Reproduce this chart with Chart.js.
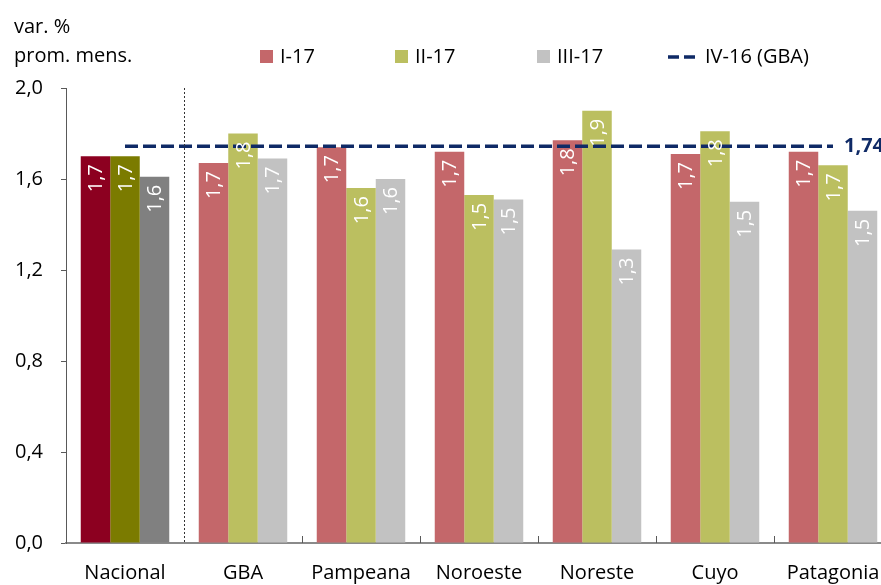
<!DOCTYPE html>
<html lang="es">
<head>
<meta charset="utf-8">
<title>Variación promedio mensual por región</title>
<script src="https://cdn.jsdelivr.net/npm/chart.js@4.4.1/dist/chart.umd.min.js"></script>
<style>
  html, body { margin: 0; padding: 0; background: #fff; overflow: hidden; }
  #grafico { display: block; }
</style>
</head>
<body>
<canvas id="grafico" width="900" height="585"></canvas>
<script>
const regiones = ["Nacional", "GBA", "Pampeana", "Noroeste", "Noreste", "Cuyo", "Patagonia"];
const trimestreI = [1.70, 1.67, 1.74, 1.72, 1.77, 1.71, 1.72];
const trimestreII = [1.70, 1.80, 1.56, 1.53, 1.90, 1.81, 1.66];
const trimestreIII = [1.61, 1.69, 1.60, 1.51, 1.29, 1.50, 1.46];
const referenciaGBA = [1.744, 1.744, 1.744, 1.744, 1.744, 1.744, 1.744];
const ticksY = [0, 0.4, 0.8, 1.2, 1.6, 2.0];

const nombresSeries = ["I-17", "II-17", "III-17", "IV-16 (GBA)"];
const coloresRegion = ["#c4676a", "#bbbf60", "#c2c2c2"];
const coloresNacional = ["#8c0020", "#7b7b00", "#808080"];
const colorLinea = "#0f2a66";

const fuente = '"Open Sans", "Noto Sans", sans-serif';

function formatoComa(valor, decimales) {
  return Number(valor).toFixed(decimales).replace(".", ",");
}

function datasetBarras(indice, datos) {
  return {
    type: "bar",
    label: nombresSeries[indice],
    data: datos,
    order: 1,
    backgroundColor: (ctx) => (ctx.dataIndex === 0 ? coloresNacional[indice] : coloresRegion[indice]),
    borderWidth: 0,
    categoryPercentage: 0.75,
    barPercentage: 1,
  };
}

// rotulos verticales dentro de las barras + valor de la linea
const pluginRotulos = {
  id: "rotulos",
  afterDatasetsDraw(chart) {
    const ctx = chart.ctx;
    chart.data.datasets.forEach((ds, i) => {
      const meta = chart.getDatasetMeta(i);
      if (ds.type === "bar") {
        meta.data.forEach((el, j) => {
          ctx.save();
          ctx.translate(el.x, el.y + 8);
          ctx.rotate(-Math.PI / 2);
          ctx.font = "20px " + fuente;
          ctx.fillStyle = "#ffffff";
          ctx.textAlign = "right";
          ctx.textBaseline = "middle";
          ctx.fillText(formatoComa(ds.data[j], 1), 0, 1);
          ctx.restore();
        });
      } else {
        const ultimo = meta.data[meta.data.length - 1];
        ctx.save();
        ctx.font = "bold 20px " + fuente;
        ctx.fillStyle = colorLinea;
        ctx.textAlign = "left";
        ctx.textBaseline = "middle";
        ctx.fillText(formatoComa(ds.data[ds.data.length - 1], 2), ultimo.x + 11, ultimo.y);
        ctx.restore();
      }
    });
  },
};

// separadores del eje x, linea punteada, titulo y leyenda
const pluginDecoracion = {
  id: "decoracion",
  afterDraw(chart) {
    const ctx = chart.ctx;
    const area = chart.chartArea;
    const x = chart.scales.x;

    ctx.save();
    for (let i = 1; i < regiones.length; i++) {
      const xs = (x.getPixelForValue(i - 1) + x.getPixelForValue(i)) / 2;
      ctx.beginPath();
      if (i === 1) {
        ctx.strokeStyle = "#333333";
        ctx.lineWidth = 1;
        ctx.setLineDash([2, 2]);
        ctx.moveTo(Math.round(xs) + 0.5, area.top);
        ctx.lineTo(Math.round(xs) + 0.5, area.bottom);
      } else {
        ctx.strokeStyle = "#595959";
        ctx.lineWidth = 1;
        ctx.setLineDash([]);
        ctx.moveTo(Math.round(xs) + 0.5, area.bottom);
        ctx.lineTo(Math.round(xs) + 0.5, area.bottom - 7);
      }
      ctx.stroke();
    }
    ctx.setLineDash([]);

    // titulo del eje
    ctx.font = "20px " + fuente;
    ctx.fillStyle = "#000000";
    ctx.textAlign = "left";
    ctx.textBaseline = "alphabetic";
    ctx.fillText("var. %", 14, 33);
    ctx.fillText("prom. mens.", 14, 61.5);

    // leyenda
    const posLeyenda = [260, 395, 537, 668];
    nombresSeries.forEach((nombre, i) => {
      const x0 = posLeyenda[i];
      let xt;
      if (i < 3) {
        ctx.fillStyle = coloresRegion[i];
        ctx.fillRect(x0, 50, 13, 13);
        xt = x0 + 20;
      } else {
        ctx.strokeStyle = colorLinea;
        ctx.lineWidth = 3.5;
        ctx.setLineDash([11, 5]);
        ctx.beginPath();
        ctx.moveTo(x0, 57);
        ctx.lineTo(x0 + 28, 57);
        ctx.stroke();
        ctx.setLineDash([]);
        xt = x0 + 37;
      }
      ctx.fillStyle = "#000000";
      ctx.fillText(nombre, xt, 63);
    });
    ctx.restore();
  },
};

new Chart(document.getElementById("grafico"), {
  data: {
    labels: regiones,
    datasets: [
      datasetBarras(0, trimestreI),
      datasetBarras(1, trimestreII),
      datasetBarras(2, trimestreIII),
      {
        type: "line",
        label: nombresSeries[3],
        data: referenciaGBA,
        order: 0,
        borderColor: colorLinea,
        borderWidth: 3.5,
        borderDash: [13, 5],
        pointRadius: 0,
        fill: false,
      },
    ],
  },
  options: {
    responsive: false,
    animation: false,
    layout: { padding: { top: 88, right: 8, left: 0, bottom: 0 } },
    plugins: {
      legend: { display: false },
      tooltip: { enabled: false },
    },
    scales: {
      x: {
        grid: { display: false },
        border: { display: true, color: "#8a8a8a", width: 2 },
        ticks: {
          color: "#000000",
          font: { family: fuente, size: 20 },
          padding: 10,
          maxRotation: 0,
          autoSkip: false,
        },
        afterFit(scale) {
          scale.height = 42;
        },
      },
      y: {
        min: 0,
        max: 2,
        afterBuildTicks(scale) {
          scale.ticks = ticksY.map((v) => ({ value: v }));
        },
        grid: {
          display: true,
          drawOnChartArea: false,
          drawTicks: true,
          tickLength: 5,
          color: "#595959",
        },
        border: { display: true, color: "#595959", width: 1 },
        ticks: {
          color: "#000000",
          font: { family: fuente, size: 20 },
          padding: 18,
          callback: (valor) => formatoComa(valor, 1),
        },
        afterFit(scale) {
          scale.width = 66;
        },
      },
    },
  },
  plugins: [pluginRotulos, pluginDecoracion],
});
</script>
</body>
</html>
